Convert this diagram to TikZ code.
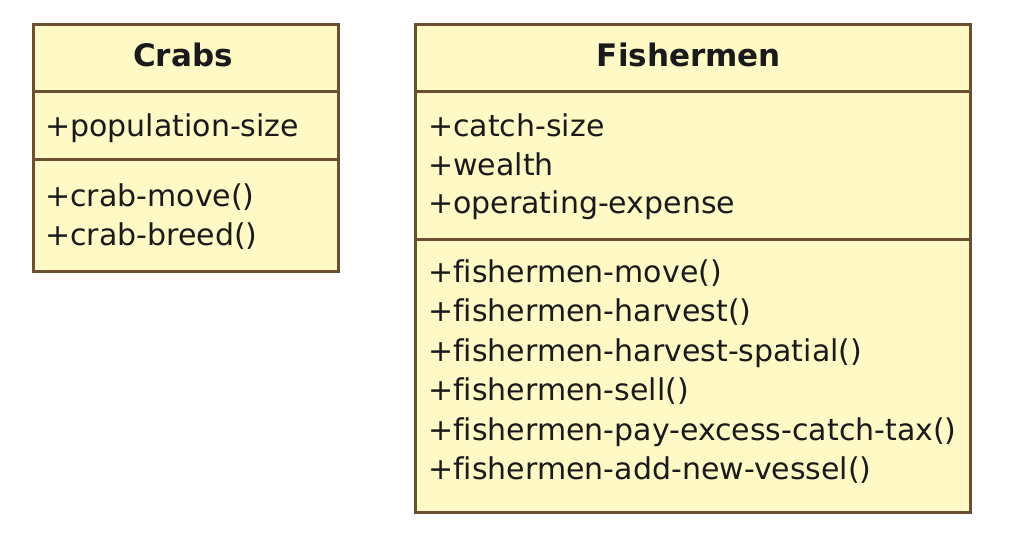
\documentclass[tikz,border=0pt]{standalone}
\usepackage{fontspec}
\setmainfont{DejaVu Sans}[Ligatures=NoCommon]
\definecolor{boxfill}{HTML}{FFF9C6}
\definecolor{boxline}{HTML}{6B4F30}
\definecolor{txt}{HTML}{1A1A1A}
\tikzset{
  classbox/.style={draw=boxline, fill=boxfill, line width=2.5pt, rectangle, inner sep=0pt, anchor=north west},
  divider/.style={draw=boxline, line width=3pt},
  title/.style={font=\fontsize{31}{32}\selectfont\bfseries, text=txt, inner sep=0pt, anchor=base},
  member/.style={font=\fontsize{30}{31}\selectfont, text=txt, inner sep=0pt, anchor=base west},
}
\begin{document}
\begin{tikzpicture}[x=1pt,y=-1pt]
\useasboundingbox (0,0) rectangle (1016,546);
% Crabs
\node[classbox, minimum width=305pt, minimum height=247pt] (crabs) at (32,23) {};
\coordinate (c1a) at (32,91); \coordinate (c1b) at (337,91);
\coordinate (c2a) at (32,159); \coordinate (c2b) at (337,159);
\draw[divider] (c1a) -- (c1b);
\draw[divider] (c2a) -- (c2b);
\node[title] (crabsT) at (183,66) {Crabs};
\node[member] (cA1) at (45,136) {+population-size};
\node[member] (cM1) at (45,206) {+crab-move()};
\node[member] (cM2) at (45,245) {+crab-breed()};
% Fishermen
\node[classbox, minimum width=555pt, minimum height=488pt] (fish) at (414,23) {};
\coordinate (f1a) at (414,91); \coordinate (f1b) at (969,91);
\coordinate (f2a) at (414,239); \coordinate (f2b) at (969,239);
\draw[divider] (f1a) -- (f1b);
\draw[divider] (f2a) -- (f2b);
\node[title] (fishT) at (689,66) {Fishermen};
\node[member] (fA1) at (428,136) {+catch-size};
\node[member] (fA2) at (428,175) {+wealth};
\node[member] (fA3) at (428,213) {+operating-expense};
\node[member] (fM1) at (428,282) {+fishermen-move()};
\node[member] (fM2) at (428,321.5) {+fishermen-harvest()};
\node[member] (fM3) at (428,361) {+fishermen-harvest-spatial()};
\node[member] (fM4) at (428,400.5) {+fishermen-sell()};
\node[member] (fM5) at (428,440) {+fishermen-pay-excess-catch-tax()};
\node[member] (fM6) at (428,479.5) {+fishermen-add-new-vessel()};
\end{tikzpicture}
\end{document}
